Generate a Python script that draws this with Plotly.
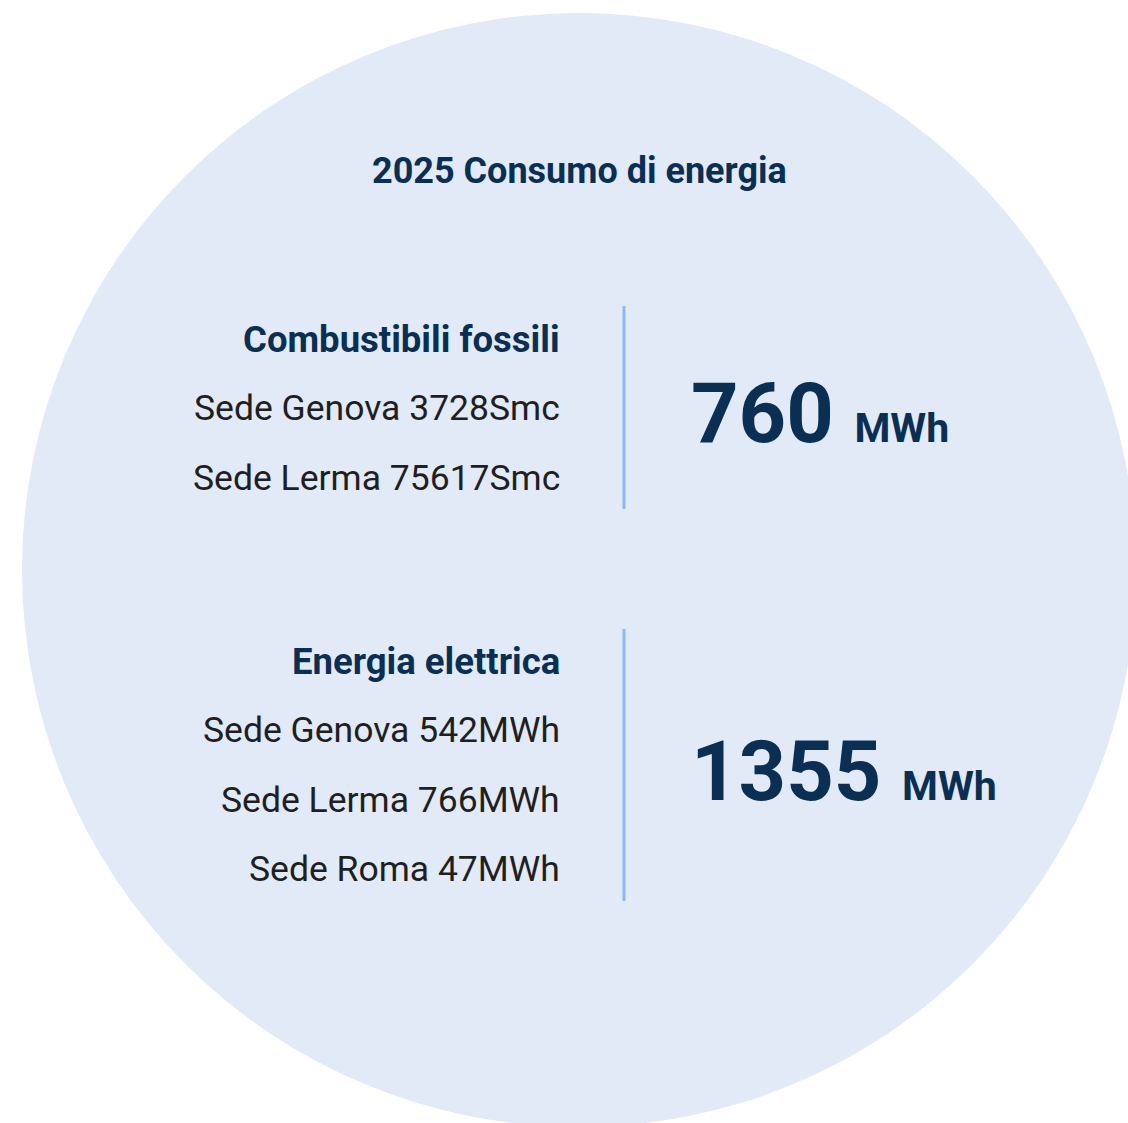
import plotly.graph_objects as go

# ---- data ----
title_text = "2025 Consumo di energia"
group_titles = ["Combustibili fossili", "Energia elettrica"]
fossil_sites = ["Sede Genova", "Sede Lerma"]
fossil_values = [3728, 75617]
fossil_unit = "Smc"
elec_sites = ["Sede Genova", "Sede Lerma", "Sede Roma"]
elec_values = [542, 766, 47]
elec_unit = "MWh"
totals = [760, 1355]
total_unit = "MWh"

W, H = 1128, 1123
NAVY = "#0A2F52"
BODY = "#1F1F1F"
LINE = "#8AB9F4"
FILL = "#E2EAF7"
FONT = "Roboto"

fig = go.Figure()
shapes = [
    dict(type="circle", xref="x", yref="y", x0=579 - 557, x1=579 + 557,
         y0=570 - 557, y1=570 + 557, fillcolor=FILL, line=dict(width=0), layer="below"),
]
ann = []
ann.append(dict(x=579, y=171, text="<b>%s</b>" % title_text, xanchor="center", yanchor="middle",
                showarrow=False, font=dict(family=FONT, size=36, color=NAVY)))

groups = [
    (group_titles[0], fossil_sites, fossil_values, fossil_unit, totals[0], 339, 306, 509),
    (group_titles[1], elec_sites, elec_values, elec_unit, totals[1], 661, 629, 901),
]
for gtitle, sites, vals, unit, total, ytop, l0, l1 in groups:
    ann.append(dict(x=562, y=ytop, text="<b>%s</b>" % gtitle, xanchor="right", yanchor="middle",
                    showarrow=False, font=dict(family=FONT, size=36.5, color=NAVY)))
    for i, (s, v) in enumerate(zip(sites, vals)):
        ann.append(dict(x=562, y=ytop + 69.3 * (i + 1), text="%s %d%s" % (s, v, unit),
                        xanchor="right", yanchor="middle", showarrow=False,
                        font=dict(family=FONT, size=35.5, color=BODY)))
    shapes.append(dict(type="line", xref="x", yref="y", x0=624, x1=624, y0=l0, y1=l1,
                       line=dict(color=LINE, width=3)))
    ymid = (l0 + l1) / 2 + 6
    ann.append(dict(x=689, y=ymid,
                    text="<b>%d</b> <b><span style='font-size:41px'>%s</span></b>" % (total, total_unit),
                    xanchor="left", yanchor="middle", showarrow=False,
                    font=dict(family=FONT, size=83, color=NAVY)))

fig.update_layout(
    width=W, height=H, autosize=False,
    margin=dict(l=0, r=0, t=0, b=0),
    paper_bgcolor="white", plot_bgcolor="white",
    xaxis=dict(range=[0, W], visible=False, fixedrange=True),
    yaxis=dict(range=[H, 0], visible=False, fixedrange=True),
    shapes=shapes, annotations=ann, showlegend=False,
)
fig.write_html("out.html", config={"displayModeBar": False},
               post_script="document.body.style.margin='0';document.body.style.overflow='hidden';")
